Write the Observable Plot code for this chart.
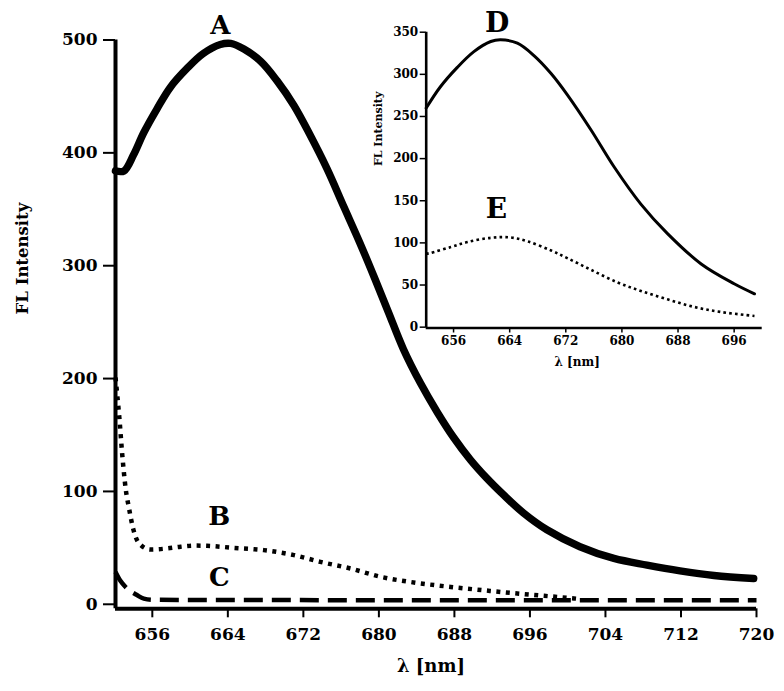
<!DOCTYPE html>
<html>
<head>
<meta charset="utf-8">
<script src="https://cdn.jsdelivr.net/npm/d3@7"></script>
<script src="https://cdn.jsdelivr.net/npm/@observablehq/plot@0.6"></script>
<style>
  html, body { margin: 0; padding: 0; background: #fff; }
  #wrap { position: relative; width: 784px; height: 691px; }
  #wrap svg { position: absolute; left: 0; top: 0; }
</style>
</head>
<body>
<div id="wrap"></div>
<script>
// ---------- Main chart data ----------
const nmA = [652.1, 653.0, 654.0, 655.1, 656.5, 657.9, 659.7, 661.4, 663.2, 664.3, 665.7, 667.5, 669.2, 671.0, 672.7, 674.5, 676.3, 678.0, 679.5, 681.0, 682.6, 684.4, 686.2, 687.9, 689.7, 691.4, 693.2, 695.3, 697.8, 701.3, 704.9, 708.4, 711.9, 715.5, 719.7];
const valA = [384, 384, 398, 418, 439, 458, 475, 488, 496, 497, 492, 481, 464, 442, 416, 386, 352, 320, 290, 259, 226, 196, 170, 148, 128, 112, 97, 81, 66, 51, 40.6, 34.7, 29.6, 25.5, 22.8];

const nmB = [652.1, 652.3, 652.5, 652.8, 653.2, 653.5, 654.0, 654.6, 655.8, 657.6, 659.0, 660.4, 661.8, 664.6, 667.8, 671.0, 673.8, 677.0, 680.2, 683.3, 687.6, 691.1, 694.3, 697.5, 700.9];
const valB = [201, 184, 166, 134, 101, 86.5, 66, 54, 48.5, 49.5, 51, 52, 51.8, 50, 48, 43.6, 37.6, 31.7, 24.3, 19.8, 15.4, 12.4, 9.8, 7.5, 5];

const nmC = [652.1, 652.6, 653.2, 654.4, 655.1, 656.0, 660.0, 690.0, 720.0];
const valC = [28.6, 21, 15, 8, 5, 4, 3.8, 3.6, 3.5];

const mainXTicks = [656, 664, 672, 680, 688, 696, 704, 712, 720];
const mainYTicks = [0, 100, 200, 300, 400, 500];

// ---------- Inset data ----------
const nmD = [652.1, 654.1, 656.5, 658.9, 661.3, 662.7, 665.1, 667.5, 669.9, 672.2, 675.6, 678.9, 682.7, 686.5, 691.3, 696.0, 698.9];
const valD = [260, 285, 308, 327, 339, 341, 337, 322, 301, 276, 234, 190, 146, 111, 75, 51.5, 39.6];

const nmE = [652.1, 652.7, 655.6, 658.0, 661.3, 664.1, 666.5, 669.9, 672.2, 675.6, 679.4, 682.7, 686.5, 690.3, 694.1, 698.9];
const valE = [87, 88, 95, 101, 106, 106.5, 102, 91, 82, 68, 53, 43, 33, 24, 18, 13.3];

const insetXTicks = [656, 664, 672, 680, 688, 696];
const insetYTicks = [0, 50, 100, 150, 200, 250, 300, 350];

// curve labels (data coordinates)
const mainLabelNames = ["A", "B", "C"];
const mainLabelNm = [663.2, 663.1, 663.1];
const mainLabelVal = [513, 78, 24];
const insetLabelNames = ["D", "E"];
const insetLabelNm = [662.2, 662.1];
const insetLabelVal = [361, 140];

const xTitle = "λ [nm]";
const yTitle = "FL Intensity";

const zip = (xs, ys) => xs.map((x, i) => ({x, y: ys[i]}));
const font = "DejaVu Serif";

const mainLabels = mainLabelNames.map((t, i) => ({t, x: mainLabelNm[i], y: mainLabelVal[i]}));
const insetLabels = insetLabelNames.map((t, i) => ({t, x: insetLabelNm[i], y: insetLabelVal[i]}));

const xMin = 652.1;

const main = Plot.plot({
  width: 784, height: 691,
  marginLeft: 115, marginRight: 28, marginTop: 39.5, marginBottom: 82.7,
  x: {domain: [xMin, 720]},
  y: {domain: [-4, 500]},
  style: {fontFamily: font, fontWeight: "bold", background: "transparent", color: "#000"},
  marks: [
    Plot.axisY({ticks: mainYTicks, tickSize: 12, tickPadding: 6, fontSize: 17, strokeWidth: 2, label: null, fontWeight: "bold"}),
    Plot.axisX({ticks: mainXTicks, tickSize: 9, tickPadding: 10, fontSize: 17, strokeWidth: 2, label: null, fontWeight: "bold"}),
    Plot.ruleX([xMin], {y1: -4, y2: 500, stroke: "#000", strokeWidth: 4}),
    Plot.ruleY([-4], {x1: xMin, x2: 720, stroke: "#000", strokeWidth: 4}),
    Plot.line(zip(nmC, valC), {x: "x", y: "y", stroke: "#000", strokeWidth: 4.5, strokeDasharray: "19 9", strokeLinecap: "butt", curve: "monotone-x"}),
    Plot.line(zip(nmB, valB), {x: "x", y: "y", stroke: "#000", strokeWidth: 4.5, strokeDasharray: "4 5.5", strokeLinecap: "butt", curve: "monotone-x"}),
    Plot.line(zip(nmA, valA), {x: "x", y: "y", stroke: "#000", strokeWidth: 7.5, curve: "catmull-rom"}),
    Plot.text(mainLabels, {x: "x", y: "y", text: "t", fontSize: 26, fontWeight: "bold", fill: "#000", lineAnchor: "middle"}),
    Plot.text([yTitle], {frameAnchor: "left", dx: -93, dy: -10, rotate: -90, fontSize: 16.5, fontWeight: "bold", fill: "#000"}),
    Plot.text([xTitle], {frameAnchor: "bottom", dx: -5, dy: 57, fontSize: 18, fontWeight: "bold", fill: "#000", lineAnchor: "middle"})
  ]
});

const inset = Plot.plot({
  width: 784, height: 380,
  marginLeft: 425.7, marginRight: 22.3, marginTop: 31.7, marginBottom: 52.5,
  x: {domain: [xMin, 700]},
  y: {domain: [-1, 350]},
  style: {fontFamily: font, fontWeight: "bold", background: "transparent", color: "#000"},
  marks: [
    Plot.axisY({ticks: insetYTicks, tickSize: 6, tickPadding: 2, fontSize: 12, strokeWidth: 1.5, label: null, fontWeight: "bold"}),
    Plot.axisX({ticks: insetXTicks, tickSize: 5, tickPadding: 3, fontSize: 12, strokeWidth: 1.5, label: null, fontWeight: "bold"}),
    Plot.ruleX([xMin], {y1: -1, y2: 350, stroke: "#000", strokeWidth: 2.6}),
    Plot.ruleY([-1], {x1: xMin, x2: 700, stroke: "#000", strokeWidth: 2.6}),
    Plot.line(zip(nmE, valE), {x: "x", y: "y", stroke: "#000", strokeWidth: 2.6, strokeDasharray: "2.6 3.2", strokeLinecap: "butt", curve: "catmull-rom"}),
    Plot.line(zip(nmD, valD), {x: "x", y: "y", stroke: "#000", strokeWidth: 3, curve: "catmull-rom"}),
    Plot.text(insetLabels, {x: "x", y: "y", text: "t", fontSize: 28, fontWeight: "bold", fill: "#000", lineAnchor: "middle"}),
    Plot.text([yTitle], {frameAnchor: "left", dx: -48, dy: -14, rotate: -90, fontSize: 11, fontWeight: "bold", fill: "#000"}),
    Plot.text([xTitle], {frameAnchor: "bottom", dx: -17, dy: 34, fontSize: 12, fontWeight: "bold", fill: "#000", lineAnchor: "middle"})
  ]
});

const wrap = document.getElementById("wrap");
wrap.appendChild(main);
wrap.appendChild(inset);
</script>
</body>
</html>
